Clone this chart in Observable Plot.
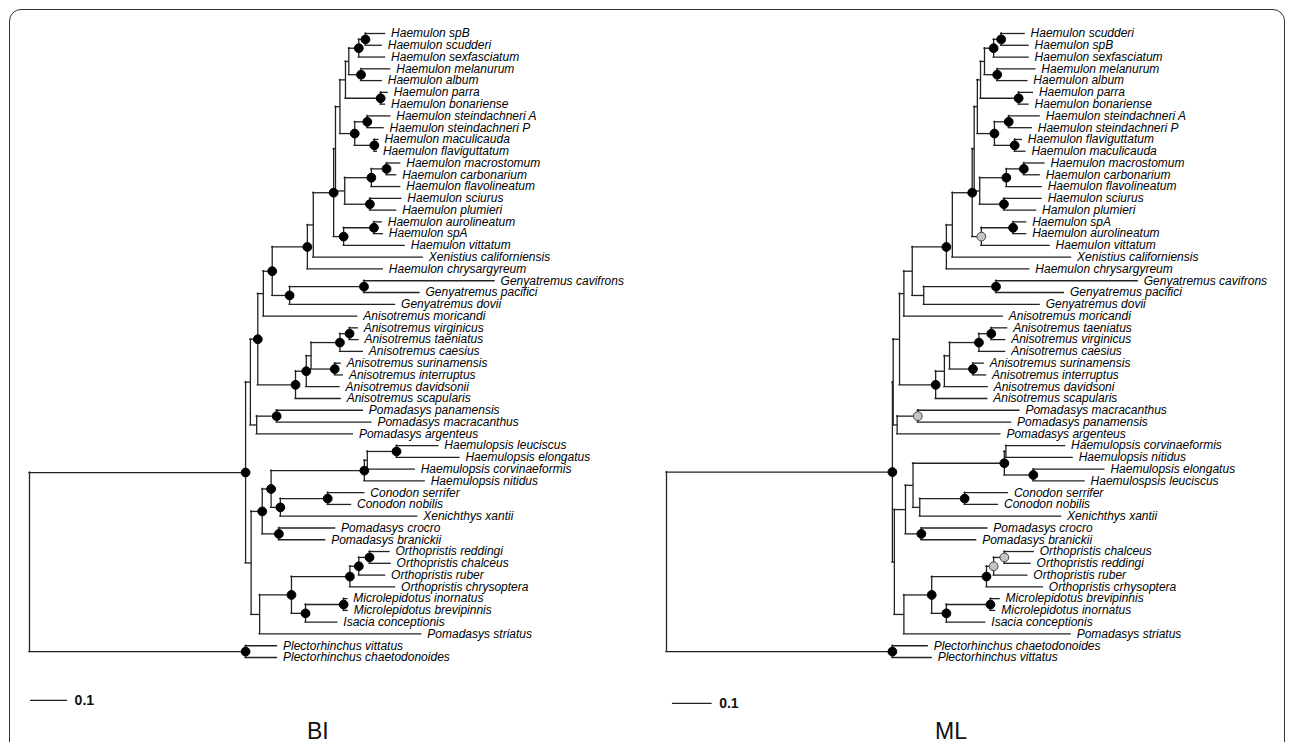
<!DOCTYPE html>
<html><head><meta charset="utf-8">
<script src="https://cdn.jsdelivr.net/npm/d3@7"></script>
<script src="https://cdn.jsdelivr.net/npm/@observablehq/plot@0.6"></script>
<style>
html,body{margin:0;padding:0;background:#fff;width:1290px;height:742px;overflow:hidden;font-family:"Liberation Sans",Arial,sans-serif;}
#frame{position:absolute;left:9px;top:9px;width:1274px;height:800px;border:1.6px solid #333;border-radius:12px;}
.panel{position:absolute;top:0;}
.ttl{position:absolute;top:720px;font-size:23px;line-height:23px;color:#111;}
</style></head>
<body>
<div id="frame"></div>
<div id="bi" class="panel" style="left:0px"></div>
<div id="ml" class="panel" style="left:640px"></div>
<div class="ttl" style="left:307px">BI</div>
<div class="ttl" style="left:935px">ML</div>
<script>
// ---------- BI tree ----------
const biLeaves = ["Haemulon spB","Haemulon scudderi","Haemulon sexfasciatum","Haemulon melanurum","Haemulon album","Haemulon parra","Haemulon bonariense","Haemulon steindachneri A","Haemulon steindachneri P","Haemulon maculicauda","Haemulon flaviguttatum","Haemulon macrostomum","Haemulon carbonarium","Haemulon flavolineatum","Haemulon sciurus","Haemulon plumieri","Haemulon aurolineatum","Haemulon spA","Haemulon vittatum","Xenistius californiensis","Haemulon chrysargyreum","Genyatremus cavifrons","Genyatremus pacifici","Genyatremus dovii","Anisotremus moricandi","Anisotremus virginicus","Anisotremus taeniatus","Anisotremus caesius","Anisotremus surinamensis","Anisotremus interruptus","Anisotremus davidsonii","Anisotremus scapularis","Pomadasys panamensis","Pomadasys macracanthus","Pomadasys argenteus","Haemulopsis leuciscus","Haemulopsis elongatus","Haemulopsis corvinaeformis","Haemulopsis nitidus","Conodon serrifer","Conodon nobilis","Xenichthys xantii","Pomadasys crocro","Pomadasys branickii","Orthopristis reddingi","Orthopristis chalceus","Orthopristis ruber","Orthopristis chrysoptera","Microlepidotus inornatus","Microlepidotus brevipinnis","Isacia conceptionis","Pomadasys striatus","Plectorhinchus vittatus","Plectorhinchus chaetodonoides"];
const biLeafParent = ["a1","a1","a2","a3","a3","a5","a5","b1","b1","b2","b2","c1","c1","c2","c3","c3","d1","d1","D","H2","H","G2","G2","G1","P2","an1","an1","an2","an3","an3","an5","AN","pm1","pm1","PM","hl1","hl1","hl2","HL","cn1","cn1","cn2","pc","pc","o1","o1","o2","o3","m1","m1","m2","L3","Pl","Pl"];
const biLeafDepth = [0.961,0.952,0.961,0.975,0.952,0.968,0.961,0.975,0.957,0.943,0.939,1.002,0.991,1.002,1.005,0.991,0.952,0.955,1.014,1.063,0.955,1.257,1.054,0.988,0.886,0.887,0.889,0.901,0.841,0.847,0.838,0.841,0.901,0.924,0.874,1.105,1.162,1.041,1.068,0.905,0.869,1.048,0.826,0.799,0.973,0.976,0.961,0.988,0.859,0.860,0.832,1.059,0.669,0.669];
// [id, parent, depth from root, support (1 = black dot, 0.5 = grey dot, 0 = none)]
const biNodes = [
 ["root",null,0,0],["Pl","root",0.584,1],["IN","root",0.584,1],
 ["U","IN",0.597,0],["L","IN",0.599,0],["P1","U",0.617,1],["PM","U",0.614,0],["pm1","PM",0.668,1],
 ["P2","P1",0.632,0],["AN","P1",0.719,1],["P3","P2",0.656,1],["H","P3",0.751,1],["G1","P3",0.703,1],["G2","G1",0.904,1],
 ["H2","H",0.767,0],["core","H2",0.822,1],["ABC","core",0.827,0],["AB","ABC",0.839,0],["A","AB",0.854,0],
 ["a4","A",0.863,0],["a2","a4",0.890,1],["a1","a2",0.908,1],["a3","a4",0.896,1],["a5","A",0.949,1],
 ["B","AB",0.879,1],["b1","B",0.913,1],["b2","B",0.932,1],
 ["C","ABC",0.852,0],["c2","C",0.924,1],["c1","c2",0.965,1],["c3","C",0.920,1],
 ["D","core",0.849,1],["d1","D",0.931,1],
 ["an5","AN",0.748,1],["an4","an5",0.761,0],["an2","an4",0.839,1],["an1","an2",0.865,1],["an3","an4",0.825,1],
 ["L2","L",0.629,1],["L1","L2",0.653,1],["HL","L1",0.905,1],["hl2","HL",0.913,0],["hl1","hl2",0.992,1],
 ["cn2","L1",0.678,1],["cn1","cn2",0.806,1],["pc","L2",0.674,1],
 ["L3","L",0.622,0],["om","L3",0.708,1],["o3","om",0.866,1],["o2","o3",0.890,1],["o1","o2",0.919,1],
 ["m2","om",0.746,1],["m1","m2",0.849,1]
];
// ---------- ML tree ----------
const mlLeaves = ["Haemulon scudderi","Haemulon spB","Haemulon sexfasciatum","Haemulon melanurum","Haemulon album","Haemulon parra","Haemulon bonariense","Haemulon steindachneri A","Haemulon steindachneri P","Haemulon flaviguttatum","Haemulon maculicauda","Haemulon macrostomum","Haemulon carbonarium","Haemulon flavolineatum","Haemulon sciurus","Hamulon plumieri","Haemulon spA","Haemulon aurolineatum","Haemulon vittatum","Xenistius californiensis","Haemulon chrysargyreum","Genyatremus cavifrons","Genyatremus pacifici","Genyatremus dovii","Anisotremus moricandi","Anisotremus taeniatus","Anisotremus virginicus","Anisotremus caesius","Anisotremus surinamensis","Anisotremus interruptus","Anisotremus davidsoni","Anisotremus scapularis","Pomadasys macracanthus","Pomadasys panamensis","Pomadasys argenteus","Haemulopsis corvinaeformis","Haemulopsis nitidus","Haemulopsis elongatus","Haemulospsis leuciscus","Conodon serrifer","Conodon nobilis","Xenichthys xantii","Pomadasys crocro","Pomadasys branickii","Orthopristis chalceus","Orthopristis reddingi","Orthopristis ruber","Orthopristis crhysoptera","Microlepidotus brevipinnis","Microlepidotus inornatus","Isacia conceptionis","Pomadasys striatus","Plectorhinchus chaetodonoides","Plectorhinchus vittatus"];
const mlLeafParent = ["a1","a1","a2","a3","a3","a5","a5","b1","b1","b2","b2","c1","c1","c2","c3","c3","d1","d1","D","H2","H","G2","G2","G1","P2","an1","an1","an2","an3","an3","an5","AN","pm1","pm1","PM","hl2","hl2","hl1","hl1","cn1","cn1","cn2","pc","pc","o1","o1","o2","o3","m1","m1","m2","L3","Pl","Pl"];
const mlLeafDepth = [0.902,0.912,0.912,0.929,0.909,0.923,0.912,0.940,0.920,0.895,0.904,0.952,0.940,0.945,0.945,0.931,0.906,0.906,0.965,1.019,0.914,1.187,1.001,0.940,0.847,0.858,0.853,0.853,0.799,0.805,0.809,0.808,0.889,0.868,0.841,1.004,1.023,1.103,1.053,0.860,0.835,0.994,0.808,0.780,0.925,0.917,0.909,0.948,0.839,0.828,0.803,1.018,0.658,0.668];
const mlNodes = [
 ["root",null,0,0],["Pl","root",0.569,1],["IN","root",0.569,1],
 ["U","IN",0.571,0],["L","IN",0.574,0],["P1","U",0.587,0],["PM","U",0.581,0],["pm1","PM",0.633,0.5],
 ["P2","P1",0.598,0],["AN","P1",0.678,1],["P3","P2",0.619,0],["H","P3",0.705,1],["G1","P3",0.648,0],["G2","G1",0.830,1],
 ["H2","H",0.720,0],["core","H2",0.770,1],["ABC","core",0.775,0],["AB","ABC",0.783,0],["A","AB",0.791,0],
 ["a4","A",0.801,0],["a2","a4",0.824,1],["a1","a2",0.843,1],["a3","a4",0.833,1],["a5","A",0.887,1],
 ["B","AB",0.826,1],["b1","B",0.862,1],["b2","B",0.877,1],
 ["C","ABC",0.789,0],["c2","C",0.856,1],["c1","c2",0.900,1],["c3","C",0.850,1],
 ["D","core",0.793,0.5],["d1","D",0.873,1],
 ["an5","AN",0.700,0],["an4","an5",0.713,0],["an2","an4",0.787,1],["an1","an2",0.818,1],["an3","an4",0.772,1],
 ["L2","L",0.602,0],["L1","L2",0.621,0],["HL","L1",0.851,1],["hl2","HL",0.855,0],["hl1","HL",0.924,1],
 ["cn2","L1",0.638,0],["cn1","cn2",0.751,1],["pc","L2",0.642,1],
 ["L3","L",0.598,0],["om","L3",0.668,1],["o3","om",0.806,1],["o2","o3",0.824,0.5],["o1","o2",0.851,0.5],
 ["m2","om",0.705,1],["m1","m2",0.816,1]
];
const scaleBarValue = 0.1;

function layout(nodes, leaves, leafParent, leafDepth) {
  const map = new Map();
  nodes.forEach(([id, parent, depth, sup]) => map.set(id, {id, parent, depth, sup, children: [], leaf: false}));
  leaves.forEach((name, i) => map.set("leaf:" + name, {id: "leaf:" + name, name, parent: leafParent[i], depth: leafDepth[i], y: i, children: [], leaf: true}));
  for (const n of map.values()) if (n.parent) map.get(n.parent).children.push(n);
  function yOf(n) {
    if (n.y != null) return n.y;
    const ys = n.children.map(yOf);
    n.y = (Math.min(...ys) + Math.max(...ys)) / 2;
    return n.y;
  }
  yOf(map.get("root"));
  const h = [], v = [], dots = [], tips = [];
  for (const n of map.values()) {
    if (n.parent) h.push({y: n.y, x1: map.get(n.parent).depth, x2: n.depth});
    if (!n.leaf) {
      const ys = n.children.map(c => c.y);
      v.push({x: n.depth, y1: Math.min(...ys), y2: Math.max(...ys)});
      if (n.sup > 0) dots.push({x: n.depth, y: n.y, sup: n.sup});
    } else tips.push({x: n.depth, y: n.y, name: n.name});
  }
  return {h, v, dots, tips};
}

function tree(data, rootPx, pxPerUnit, barStart, barY) {
  const t = layout(...data);
  const lineColor = "#222";
  return Plot.plot({
    width: 650, height: 742, margin: 0,
    style: {fontFamily: "'Liberation Sans', Arial, sans-serif", background: "transparent", overflow: "visible"},
    x: {domain: [0, 1], range: [rootPx, rootPx + pxPerUnit], axis: null},
    y: {domain: [0, 53], range: [33, 657], axis: null},
    marks: [
      Plot.ruleY(t.h, {y: "y", x1: "x1", x2: "x2", stroke: lineColor, strokeWidth: 1.3, strokeLinecap: "square"}),
      Plot.ruleX(t.v, {x: "x", y1: "y1", y2: "y2", stroke: lineColor, strokeWidth: 1.3, strokeLinecap: "square"}),
      Plot.dot(t.dots, {x: "x", y: "y", r: 4.4, fill: d => d.sup === 1 ? "#000" : "#c4c4c4", stroke: d => d.sup === 1 ? "#000" : "#444", strokeWidth: 1}),
      Plot.text(t.tips, {x: "x", y: "y", text: "name", textAnchor: "start", dx: 6, fontStyle: "italic", fontSize: 12, fill: "#000"}),
      Plot.ruleY([barY], {x1: barStart, x2: barStart + scaleBarValue, stroke: lineColor, strokeWidth: 1.3}),
      Plot.text([scaleBarValue], {x: barStart + scaleBarValue, y: barY, text: d => String(d), textAnchor: "start", dx: 7, fontWeight: "bold", fontSize: 14, fill: "#111"})
    ]
  });
}

document.getElementById("bi").append(tree([biNodes, biLeaves, biLeafParent, biLeafDepth], 29, 370, 0.003, 56.65));
document.getElementById("ml").append(tree([mlNodes, mlLeaves, mlLeafParent, mlLeafDepth], 26, 397, 0.015, 56.9));
</script>
</body></html>
